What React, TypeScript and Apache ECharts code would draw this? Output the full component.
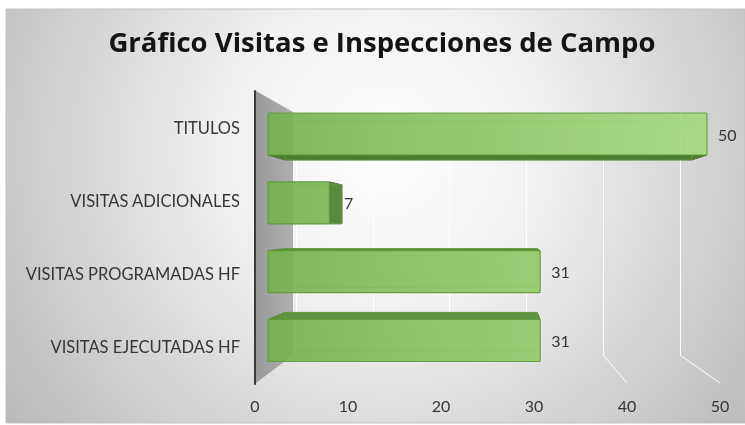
import React, { useEffect, useRef } from "react";
import * as echarts from "echarts";

const categories = [
  "VISITAS EJECUTADAS HF",
  "VISITAS PROGRAMADAS HF",
  "VISITAS ADICIONALES",
  "TITULOS",
];
const values = [31, 31, 7, 50];
const axisMin = 0;
const axisMax = 50;
const axisInterval = 10;
const floorTicks = [40, 50];
const titleText = "Gráfico Visitas e Inspecciones de Campo";

// perspective (style constants)
const VX = 501;
const VY = 223;
const K = 0.927;
const back = (x: number, y: number) => [VX + (x - VX) * K, VY + (y - VY) * K];

export default function App() {
  const ref = useRef<HTMLDivElement>(null);
  useEffect(() => {
    if (!ref.current) return;
    const chart = echarts.init(ref.current, null, { renderer: "svg" });
    const font = "Lato";
    const textColor = "#363636";
    const option: any = {
      animation: false,
      title: {
        text: titleText,
        left: 377,
        textAlign: "center",
        top: 22,
        textStyle: { fontFamily: "Open Sans", fontSize: 27.5, fontWeight: "bold", color: "#141414" },
      },
      grid: [
        { left: 255, width: 465, top: 91, height: 293, containLabel: false },
        { left: 268, width: 439, top: 99.6, height: 275.3, containLabel: false },
        { left: 296, width: 384, top: 112, height: 243, containLabel: false },
      ],
      xAxis: [
        {
          gridIndex: 0,
          type: "value",
          min: axisMin,
          max: axisMax,
          interval: axisInterval,
          axisLine: { show: false },
          axisTick: { show: false },
          splitLine: { show: false },
          axisLabel: { margin: 13, color: textColor, fontFamily: font, fontSize: 16 },
        },
        {
          gridIndex: 1,
          type: "value",
          min: axisMin,
          max: axisMax,
          show: false,
        },
        {
          gridIndex: 2,
          type: "value",
          min: axisMin,
          max: axisMax,
          interval: axisInterval,
          axisLine: { show: false },
          axisTick: { show: false },
          axisLabel: { show: false },
          splitLine: { show: true, lineStyle: { color: "rgba(255,255,255,0.95)", width: 1 } },
        },
      ],
      yAxis: [
        {
          gridIndex: 0,
          type: "category",
          data: categories,
          axisLine: { show: true, lineStyle: { color: "#3a3a3a", width: 2 } },
          axisTick: { show: false },
          splitLine: { show: false },
          axisLabel: { margin: 15, color: textColor, fontFamily: font, fontSize: 16.5 },
        },
        { gridIndex: 1, type: "category", data: categories, show: false },
        { gridIndex: 2, type: "value", show: false, splitLine: { show: false } },
      ],
      graphic: [
        {
          type: "rect",
          z: -100,
          shape: { x: 6, y: 9, width: 739, height: 414 },
          style: {
            fill: {
              type: "radial",
              x: 385,
              y: 150,
              r: 470,
              global: true,
              colorStops: [
                { offset: 0, color: "#ffffff" },
                { offset: 0.35, color: "#f0f0f0" },
                { offset: 1, color: "#b8b8b8" },
              ],
            },
            stroke: "#c0c0c0",
            lineWidth: 1,
          },
        },
        {
          type: "polygon",
          z: -50,
          shape: { points: [[256, 91], [293, 112], [293, 355], [256, 383]] },
          style: {
            fill: {
              type: "linear",
              x: 0,
              y: 0,
              x2: 1,
              y2: 0,
              colorStops: [
                { offset: 0, color: "#9a9a9a" },
                { offset: 1, color: "#afafaf" },
              ],
            },
          },
        },
      ],
      series: [
        {
          type: "custom",
          xAxisIndex: 1,
          yAxisIndex: 1,
          encode: { x: 0, y: 1 },
          data: values.map((v, i) => [v, i]),
          renderItem: (params: any, api: any) => {
            const v = api.value(0);
            const idx = api.value(1);
            const p0 = api.coord([0, idx]);
            const p1 = api.coord([v, idx]);
            const bh = api.size([0, 1])[1] * 0.61;
            const x0 = p0[0];
            const x1 = p1[0];
            const y0 = p0[1] - bh / 2;
            const y1 = p0[1] + bh / 2;
            const children: any[] = [];
            if (y0 > VY) {
              children.push({
                type: "polygon",
                shape: { points: [[x0, y0], [x1, y0], back(x1, y0), back(x0, y0)] },
                style: { fill: "#5f933f", stroke: "#558a36", lineWidth: 1 },
              });
            }
            if (y1 < VY) {
              children.push({
                type: "polygon",
                shape: { points: [[x0, y1], [x1, y1], back(x1, y1), back(x0, y1)] },
                style: { fill: "#4d7b30", stroke: "#4a772e", lineWidth: 1 },
              });
            }
            const br0 = back(x1, y0);
            const br1 = back(x1, y1);
            if (br0[0] > x1) {
              children.push({
                type: "polygon",
                shape: { points: [[x1, y0], [x1, y1], br1, br0] },
                style: { fill: "#5a8a3a", stroke: "#52803a", lineWidth: 1 },
              });
            }
            const bl0 = back(x0, y0);
            children.push({
              type: "rect",
              shape: { x: bl0[0], y: bl0[1], width: br1[0] - bl0[0], height: br1[1] - bl0[1] },
              style: { fill: "none", stroke: "rgba(110,170,70,0.55)", lineWidth: 1 },
            });
            children.push({
              type: "rect",
              shape: { x: x0, y: y0, width: x1 - x0, height: y1 - y0, r: 1 },
              style: {
                fill: {
                  type: "linear",
                  x: 268,
                  y: 0,
                  x2: 707,
                  y2: 0,
                  global: true,
                  colorStops: [
                    { offset: 0, color: "#75b14b" },
                    { offset: 1, color: "#a3da7c" },
                  ],
                },
                stroke: "#5e9a3b",
                lineWidth: 1.2,
                opacity: 0.9,
              },
            });
            children.push({
              type: "text",
              style: {
                x: Math.max(x1 + 11, br0[0] + 2),
                y: p0[1],
                text: String(v),
                fill: textColor,
                font: `16px ${font}`,
                verticalAlign: "middle",
                align: "left",
              },
            });
            return { type: "group", children };
          },
        },
      ],
    };
    chart.setOption(option);
    const gBack = (chart as any).getModel().getComponent("grid", 2).coordinateSystem.getRect();
    const gFront = (chart as any).getModel().getComponent("grid", 0).coordinateSystem.getRect();
    const lines = floorTicks.map((t) => {
      const bx = chart.convertToPixel({ xAxisIndex: 2 }, t) as number;
      const fx = chart.convertToPixel({ xAxisIndex: 0 }, t) as number;
      return {
        type: "line",
        z: -40,
        shape: { x1: bx, y1: gBack.y + gBack.height, x2: fx, y2: gFront.y + gFront.height - 1 },
        style: { stroke: "rgba(255,255,255,0.95)", lineWidth: 1 },
      };
    });
    chart.setOption({ graphic: [...option.graphic, ...lines] });
    return () => chart.dispose();
  }, []);
  return (
    <div
      ref={ref}
      style={{ position: "fixed", left: 0, top: 0, width: 745, height: 425 }}
    />
  );
}
